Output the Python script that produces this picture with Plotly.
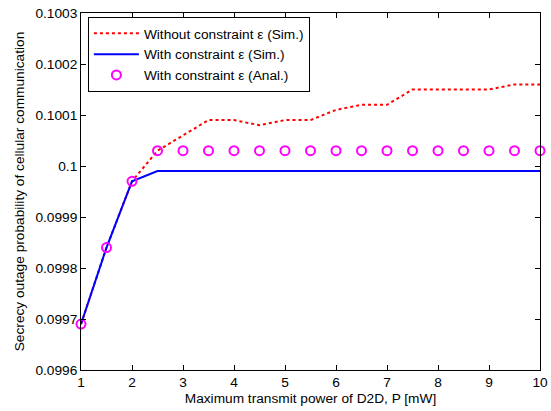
import plotly.graph_objects as go

x_vals = [1, 1.5, 2, 2.5, 3, 3.5, 4, 4.5, 5, 5.5, 6, 6.5, 7, 7.5, 8, 8.5, 9, 9.5, 10]
without_sim = [0.09969, 0.09984, 0.09997, 0.10003, 0.10006, 0.10009, 0.10009, 0.10008, 0.10009, 0.10009,
               0.10011, 0.10012, 0.10012, 0.10015, 0.10015, 0.10015, 0.10015, 0.10016, 0.10016]
with_sim = [0.09969, 0.09984, 0.09997, 0.09999, 0.09999, 0.09999, 0.09999, 0.09999, 0.09999, 0.09999,
            0.09999, 0.09999, 0.09999, 0.09999, 0.09999, 0.09999, 0.09999, 0.09999, 0.09999]
with_anal = [0.09969, 0.09984, 0.09997, 0.10003, 0.10003, 0.10003, 0.10003, 0.10003, 0.10003, 0.10003,
             0.10003, 0.10003, 0.10003, 0.10003, 0.10003, 0.10003, 0.10003, 0.10003, 0.10003]
x_ticks = [1, 2, 3, 4, 5, 6, 7, 8, 9, 10]
y_ticks = [0.0996, 0.0997, 0.0998, 0.0999, 0.1, 0.1001, 0.1002, 0.1003]
y_tick_labels = ["0.0996", "0.0997", "0.0998", "0.0999", "0.1", "0.1001", "0.1002", "0.1003"]

FONT = "Liberation Sans, Arial, sans-serif"
FS = 13.7

fig = go.Figure()
fig.add_trace(go.Scatter(x=x_vals, y=without_sim, mode="lines", name="Without constraint ε (Sim.)",
                         line=dict(color="#ff0000", width=2, dash="dot")))
fig.add_trace(go.Scatter(x=x_vals, y=with_sim, mode="lines", name="With constraint ε (Sim.)",
                         line=dict(color="#0000ff", width=2)))
fig.add_trace(go.Scatter(x=x_vals, y=with_anal, mode="markers", name="With constraint ε (Anal.)",
                         marker=dict(symbol="circle-open", size=9, color="#ff00ff", line=dict(width=2, color="#ff00ff")),
                         cliponaxis=False))

axis_common = dict(showline=True, linecolor="black", linewidth=1, mirror="ticks", ticks="inside",
                   ticklen=5, tickcolor="black", showgrid=False, zeroline=False, automargin=False,
                   tickfont=dict(family=FONT, size=FS, color="black"))
fig.update_xaxes(range=[1, 10], tickvals=x_ticks, title=dict(text="Maximum transmit power of D2D, P [mW]",
                 font=dict(family=FONT, size=FS, color="black"), standoff=3), **axis_common)
fig.update_yaxes(range=[0.0996, 0.1003], tickvals=y_ticks, ticktext=y_tick_labels,
                 title=dict(text="Secrecy outage probability of cellular communication",
                            font=dict(family=FONT, size=FS, color="black"), standoff=7),
                 **axis_common)
fig.update_layout(
    width=551, height=411,
    margin=dict(l=81, r=11, t=13, b=41, autoexpand=False),
    paper_bgcolor="white", plot_bgcolor="white",
    showlegend=True,
    legend=dict(x=0.015, y=0.989, xanchor="left", yanchor="top", bgcolor="white",
                bordercolor="black", borderwidth=1,
                font=dict(family=FONT, size=FS, color="black"),
                tracegroupgap=0, itemwidth=45),
)
fig.write_html("out.html", config={"displayModeBar": False},
               post_script="document.body.style.margin='0';document.body.style.padding='0';")
